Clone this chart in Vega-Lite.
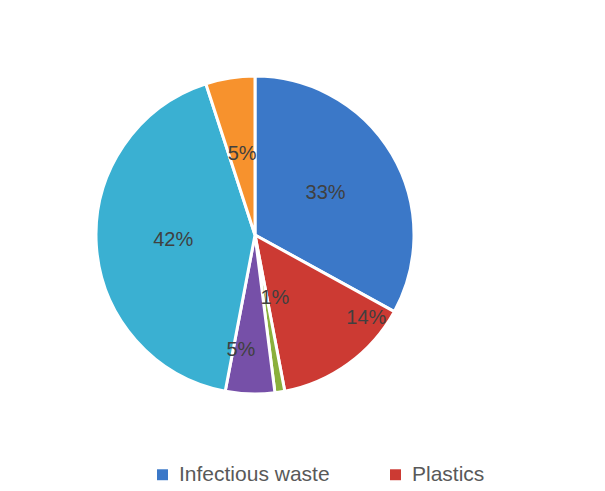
{
  "$schema": "https://vega.github.io/schema/vega-lite/v6.json",
  "autosize": "none",
  "width": 510,
  "height": 470,
  "padding": {"left": 0, "top": 0, "right": 95, "bottom": 21},
  "background": "white",
  "data": {
    "values": [
      {"category": "Infectious waste", "share": 0.33, "order": 1},
      {"category": "Plastics", "share": 0.14, "order": 2},
      {"category": "Chemical waste", "share": 0.01, "order": 3},
      {"category": "Sharps", "share": 0.05, "order": 4},
      {"category": "General waste", "share": 0.42, "order": 5},
      {"category": "Pharmaceuticals", "share": 0.05, "order": 6}
    ]
  },
  "encoding": {
    "theta": {"field": "share", "type": "quantitative", "stack": true},
    "order": {"field": "order", "type": "quantitative"}
  },
  "layer": [
    {
      "mark": {"type": "arc", "outerRadius": 159, "stroke": "white", "strokeWidth": 3},
      "encoding": {
        "color": {
          "field": "category",
          "type": "nominal",
          "sort": ["Infectious waste", "Plastics", "Chemical waste", "Sharps", "General waste", "Pharmaceuticals"],
          "scale": {
            "domain": ["Infectious waste", "Plastics", "Chemical waste", "Sharps", "General waste", "Pharmaceuticals"],
            "range": ["#3B78C8", "#CC3A33", "#8AB03C", "#7650A8", "#3AB0D2", "#F7922D"]
          },
          "legend": {
            "title": null,
            "orient": "none",
            "legendX": 152,
            "legendY": 464,
            "direction": "horizontal",
            "columns": 2,
            "columnPadding": 55,
            "values": ["Infectious waste", "Plastics"],
            "symbolType": "square",
            "symbolSize": 120,
            "symbolStrokeWidth": 0,
            "labelFontSize": 21,
            "labelFont": "Liberation Sans",
            "labelColor": "#595959",
            "labelOffset": 6,
            "labelLimit": 300
          }
        }
      }
    },
    {
      "mark": {"type": "text", "radius": 82, "fontSize": 20, "font": "Liberation Sans", "fill": "#404040"},
      "encoding": {
        "text": {
          "condition": {"test": "datum.order == 1 || datum.order == 5 || datum.order == 6", "field": "share", "type": "quantitative", "format": ".0%"},
          "value": ""
        }
      }
    },
    {
      "mark": {"type": "text", "radius": 139, "thetaOffset": -0.3, "fontSize": 20, "font": "Liberation Sans", "fill": "#404040"},
      "encoding": {
        "text": {
          "condition": {"test": "datum.order == 2", "field": "share", "type": "quantitative", "format": ".0%"},
          "value": ""
        }
      }
    },
    {
      "mark": {"type": "text", "radius": 66, "thetaOffset": -0.15, "fontSize": 20, "font": "Liberation Sans", "fill": "#404040"},
      "encoding": {
        "text": {
          "condition": {"test": "datum.order == 3", "field": "share", "type": "quantitative", "format": ".0%"},
          "value": ""
        }
      }
    },
    {
      "mark": {"type": "text", "radius": 116, "thetaOffset": 0.09, "fontSize": 20, "font": "Liberation Sans", "fill": "#404040"},
      "encoding": {
        "text": {
          "condition": {"test": "datum.order == 4", "field": "share", "type": "quantitative", "format": ".0%"},
          "value": ""
        }
      }
    }
  ],
  "config": {"view": {"stroke": null}}
}
